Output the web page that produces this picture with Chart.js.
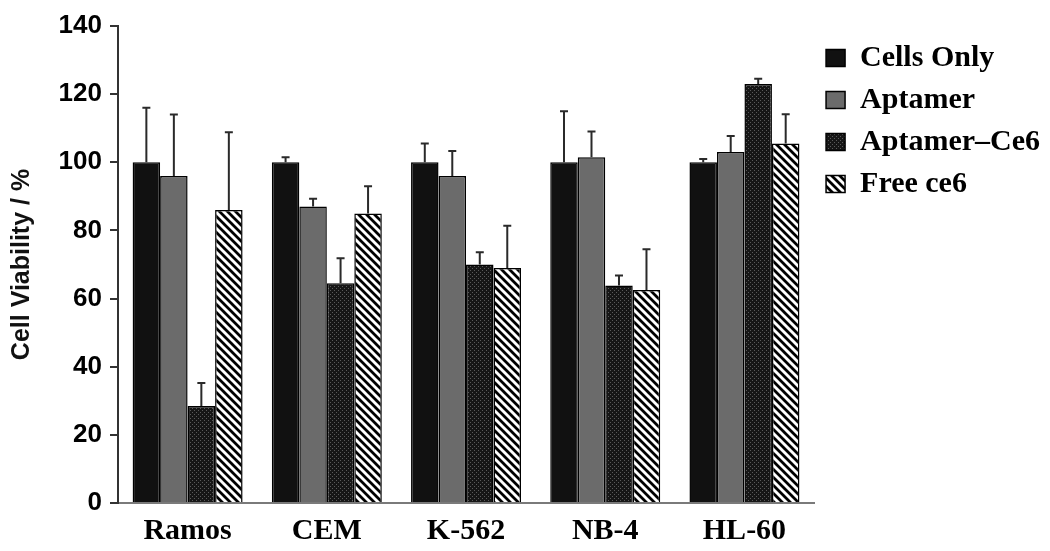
<!DOCTYPE html>
<html>
<head>
<meta charset="utf-8">
<script src="https://cdn.jsdelivr.net/npm/chart.js@4/dist/chart.umd.min.js"></script>
<style>
  html, body { margin: 0; padding: 0; background: #ffffff; }
  #wrap { width: 1050px; height: 551px; }
</style>
</head>
<body>
<div id="wrap"><canvas id="c" width="1050" height="551"></canvas></div>
<script>
// ---- Data ----
const categories = ["Ramos", "CEM", "K-562", "NB-4", "HL-60"];
const seriesNames = ["Cells Only", "Aptamer", "Aptamer\u2013Ce6", "Free ce6"];
const cellsOnly = [100, 100, 100, 100, 100];
const cellsOnlySD = [16, 1.5, 5.5, 15, 1];
const aptamer = [96, 87, 96, 101.5, 103];
const aptamerSD = [18, 2.3, 7.3, 7.5, 4.7];
const aptamerCe6 = [28.5, 64.5, 70, 63.8, 123];
const aptamerCe6SD = [6.7, 7.3, 3.6, 3, 1.5];
const freeCe6 = [86, 85, 69, 62.5, 105.5];
const freeCe6SD = [22.8, 8, 12.4, 12, 8.6];
const yTicks = [0, 20, 40, 60, 80, 100, 120, 140];

// ---- Patterns ----
function dotPattern() {
  const c = document.createElement('canvas');
  c.width = 4; c.height = 4;
  const g = c.getContext('2d');
  g.fillStyle = '#161616'; g.fillRect(0, 0, 4, 4);
  g.fillStyle = '#5a5a5a';
  g.fillRect(0, 0, 1, 1);
  g.fillRect(2, 2, 1, 1);
  return g.createPattern(c, 'repeat');
}
function stripePattern() {
  const s = 8;
  const c = document.createElement('canvas');
  c.width = s; c.height = s;
  const g = c.getContext('2d');
  g.fillStyle = '#ffffff'; g.fillRect(0, 0, s, s);
  g.strokeStyle = '#000000'; g.lineWidth = 2.8;
  g.beginPath();
  g.moveTo(-s, 0); g.lineTo(s, 2 * s);
  g.moveTo(0, 0); g.lineTo(s, s);
  g.moveTo(0, -s); g.lineTo(2 * s, s);
  g.stroke();
  return g.createPattern(c, 'repeat');
}

const sdArrays = [cellsOnlySD, aptamerSD, aptamerCe6SD, freeCe6SD];

const errorBars = {
  id: 'errorBars',
  afterDatasetsDraw(chart) {
    const ctx = chart.ctx;
    const yScale = chart.scales.y;
    ctx.save();
    ctx.strokeStyle = '#2a2a2a';
    ctx.lineWidth = 2;
    chart.data.datasets.forEach((ds, i) => {
      const meta = chart.getDatasetMeta(i);
      meta.data.forEach((el, j) => {
        const v = ds.data[j];
        const top = yScale.getPixelForValue(v + sdArrays[i][j]);
        const base = yScale.getPixelForValue(v);
        ctx.beginPath();
        ctx.moveTo(el.x, base);
        ctx.lineTo(el.x, top);
        ctx.moveTo(el.x - 4, top);
        ctx.lineTo(el.x + 4, top);
        ctx.stroke();
      });
    });
    ctx.restore();
  }
};

const fills = ['#111111', '#6b6b6b', dotPattern(), stripePattern()];
const values = [cellsOnly, aptamer, aptamerCe6, freeCe6];

new Chart(document.getElementById('c'), {
  type: 'bar',
  data: {
    labels: categories,
    datasets: seriesNames.map((n, i) => ({
      label: n,
      data: values[i],
      backgroundColor: fills[i],
      borderColor: '#000000',
      borderWidth: 1.5,
      categoryPercentage: 0.79,
      barPercentage: 1.0
    }))
  },
  options: {
    responsive: false,
    animation: false,
    layout: { padding: { top: 26, right: 0, bottom: 2, left: 0 } },
    plugins: {
      tooltip: { enabled: false },
      legend: {
        position: 'right',
        align: 'start',
        title: { display: true, text: ' ', font: { size: 1, lineHeight: 1 }, padding: { top: 4, bottom: 0 } },
        labels: {
          boxWidth: 19,
          boxHeight: 17,
          padding: 12,
          color: '#000000',
          font: { family: '"Liberation Serif", "Times New Roman", serif', weight: 'bold', size: 30 }
        }
      }
    },
    scales: {
      x: {
        afterFit(scale) { scale.height = 46; },
        grid: { display: false, drawTicks: false },
        border: { display: true, color: '#7a7a7a', width: 2 },
        ticks: {
          padding: 10,
          color: '#000000',
          font: { family: '"Liberation Serif", "Times New Roman", serif', weight: 'bold', size: 30 }
        }
      },
      y: {
        min: 0,
        max: 140,
        afterFit(scale) { scale.width = 118; },
        afterBuildTicks(scale) { scale.ticks = yTicks.map(v => ({ value: v })); },
        grid: { drawOnChartArea: false, drawTicks: true, tickLength: 8, color: '#333333', lineWidth: 2 },
        border: { display: true, color: '#333333', width: 2 },
        ticks: {
          padding: 8,
          color: '#000000',
          font: { family: '"Liberation Sans", Arial, sans-serif', weight: 'bold', size: 26 }
        },
        title: {
          display: true,
          text: 'Cell Viability / %',
          color: '#111111',
          padding: { top: 7, bottom: 0 },
          font: { family: '"Liberation Sans", Arial, sans-serif', weight: 'bold', size: 25 }
        }
      }
    }
  },
  plugins: [errorBars]
});
</script>
</body>
</html>
